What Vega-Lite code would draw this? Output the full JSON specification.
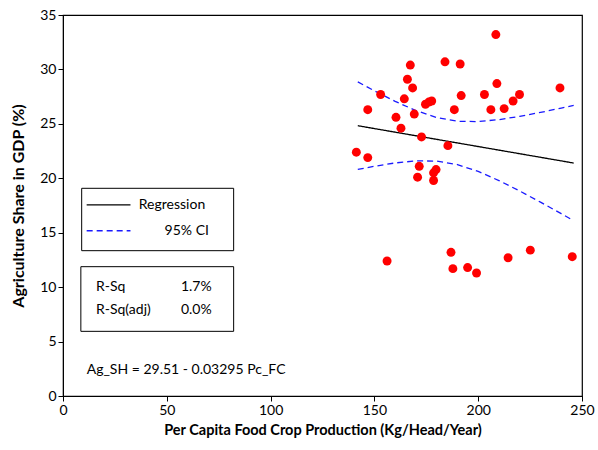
{
  "$schema": "https://vega.github.io/schema/vega-lite/v6.json",
  "width": 519,
  "height": 381,
  "autosize": "none",
  "padding": {"left": 63, "top": 15, "right": 16, "bottom": 54},
  "background": "white",
  "config": {
    "view": {"stroke": "black", "strokeWidth": 1.2},
    "font": "Lato",
    "axis": {
      "grid": false,
      "domainColor": "black",
      "tickColor": "black",
      "labelColor": "black",
      "titleColor": "black",
      "labelFont": "Lato",
      "titleFont": "Lato",
      "labelFontSize": 14,
      "titleFontSize": 14,
      "titleFontWeight": "bold",
      "tickSize": 5,
      "labelFlush": false
    }
  },
  "datasets": {
    "pts": [
      {"pc": 208.5, "ag": 33.2}, {"pc": 167.3, "ag": 30.4}, {"pc": 184.0, "ag": 30.7},
      {"pc": 191.3, "ag": 30.5}, {"pc": 165.9, "ag": 29.1}, {"pc": 168.4, "ag": 28.3},
      {"pc": 209.0, "ag": 28.7}, {"pc": 239.4, "ag": 28.3}, {"pc": 153.0, "ag": 27.7},
      {"pc": 164.4, "ag": 27.3}, {"pc": 174.6, "ag": 26.8}, {"pc": 176.2, "ag": 27.0},
      {"pc": 177.6, "ag": 27.1}, {"pc": 191.8, "ag": 27.6}, {"pc": 203.0, "ag": 27.7},
      {"pc": 219.9, "ag": 27.7}, {"pc": 216.8, "ag": 27.1}, {"pc": 146.8, "ag": 26.3},
      {"pc": 188.5, "ag": 26.3}, {"pc": 206.1, "ag": 26.3}, {"pc": 212.5, "ag": 26.4},
      {"pc": 160.4, "ag": 25.6}, {"pc": 169.2, "ag": 25.9}, {"pc": 162.8, "ag": 24.6},
      {"pc": 172.7, "ag": 23.8}, {"pc": 185.4, "ag": 23.0}, {"pc": 141.3, "ag": 22.4},
      {"pc": 146.8, "ag": 21.9}, {"pc": 171.6, "ag": 21.1}, {"pc": 179.7, "ag": 20.8},
      {"pc": 178.5, "ag": 20.5}, {"pc": 170.8, "ag": 20.1}, {"pc": 178.5, "ag": 19.8},
      {"pc": 156.1, "ag": 12.4}, {"pc": 186.9, "ag": 13.2}, {"pc": 187.8, "ag": 11.7},
      {"pc": 194.9, "ag": 11.8}, {"pc": 199.2, "ag": 11.3}, {"pc": 214.4, "ag": 12.7},
      {"pc": 225.1, "ag": 13.4}, {"pc": 245.3, "ag": 12.8}
    ],
    "lines": [
      {"x": 142, "y": 24.83, "s": "fit", "kind": "Regression"},
      {"x": 246, "y": 21.40, "s": "fit", "kind": "Regression"},
      {"x": 142, "y": 28.85, "s": "up", "kind": "CI"},
      {"x": 150, "y": 28.04, "s": "up", "kind": "CI"},
      {"x": 160, "y": 27.07, "s": "up", "kind": "CI"},
      {"x": 170, "y": 26.22, "s": "up", "kind": "CI"},
      {"x": 180, "y": 25.58, "s": "up", "kind": "CI"},
      {"x": 190, "y": 25.24, "s": "up", "kind": "CI"},
      {"x": 200, "y": 25.21, "s": "up", "kind": "CI"},
      {"x": 210, "y": 25.39, "s": "up", "kind": "CI"},
      {"x": 220, "y": 25.69, "s": "up", "kind": "CI"},
      {"x": 230, "y": 26.05, "s": "up", "kind": "CI"},
      {"x": 240, "y": 26.45, "s": "up", "kind": "CI"},
      {"x": 246, "y": 26.70, "s": "up", "kind": "CI"},
      {"x": 142, "y": 20.81, "s": "lo", "kind": "CI"},
      {"x": 150, "y": 21.10, "s": "lo", "kind": "CI"},
      {"x": 160, "y": 21.41, "s": "lo", "kind": "CI"},
      {"x": 170, "y": 21.60, "s": "lo", "kind": "CI"},
      {"x": 180, "y": 21.58, "s": "lo", "kind": "CI"},
      {"x": 190, "y": 21.26, "s": "lo", "kind": "CI"},
      {"x": 200, "y": 20.63, "s": "lo", "kind": "CI"},
      {"x": 210, "y": 19.79, "s": "lo", "kind": "CI"},
      {"x": 220, "y": 18.83, "s": "lo", "kind": "CI"},
      {"x": 230, "y": 17.81, "s": "lo", "kind": "CI"},
      {"x": 240, "y": 16.75, "s": "lo", "kind": "CI"},
      {"x": 246, "y": 16.10, "s": "lo", "kind": "CI"},
      {"x": 11.4, "y": 17.55, "s": "legfit", "kind": "Regression"},
      {"x": 32.5, "y": 17.55, "s": "legfit", "kind": "Regression"},
      {"x": 11.4, "y": 15.18, "s": "legci", "kind": "CI"},
      {"x": 32.5, "y": 15.18, "s": "legci", "kind": "CI"}
    ],
    "boxes": [
      {"x1": 9.0, "x2": 82.2, "y1": 13.35, "y2": 19.08},
      {"x1": 8.6, "x2": 82.2, "y1": 5.94, "y2": 11.88}
    ],
    "textsL": [
      {"x": 36.5, "y": 17.55, "t": "Regression"},
      {"x": 15.9, "y": 10.04, "t": "R-Sq"},
      {"x": 15.9, "y": 7.9, "t": "R-Sq(adj)"},
      {"x": 11.4, "y": 2.39, "t": "Ag_SH =  29.51 - 0.03295 Pc_FC"}
    ],
    "textsR": [
      {"x": 70.3, "y": 15.18, "t": "95% CI"},
      {"x": 71.6, "y": 10.04, "t": "1.7%"},
      {"x": 71.6, "y": 7.9, "t": "0.0%"}
    ]
  },
  "encoding": {
    "x": {
      "type": "quantitative",
      "scale": {"domain": [0, 250], "nice": false, "zero": false},
      "axis": {"values": [0, 50, 100, 150, 200, 250], "title": "Per Capita Food Crop Production (Kg/Head/Year)", "titleFontSize": 14.5, "titlePadding": 6, "labelPadding": 2}
    },
    "y": {
      "type": "quantitative",
      "scale": {"domain": [0, 35], "nice": false, "zero": false},
      "axis": {"values": [0, 5, 10, 15, 20, 25, 30, 35], "title": "Agriculture Share in GDP (%)", "titleFontSize": 16, "titlePadding": 13, "labelPadding": 2}
    }
  },
  "layer": [
    {
      "data": {"name": "boxes"},
      "mark": {"type": "rect", "fill": "white", "stroke": "black", "strokeWidth": 1},
      "encoding": {
        "x": {"field": "x1", "type": "quantitative"},
        "x2": {"field": "x2"},
        "y": {"field": "y1", "type": "quantitative"},
        "y2": {"field": "y2"}
      }
    },
    {
      "data": {"name": "lines"},
      "mark": {"type": "line", "strokeWidth": 1.3},
      "encoding": {
        "x": {"field": "x", "type": "quantitative"},
        "y": {"field": "y", "type": "quantitative"},
        "detail": {"field": "s", "type": "nominal"},
        "color": {"field": "kind", "type": "nominal", "scale": {"domain": ["Regression", "CI"], "range": ["black", "#1a1aff"]}, "legend": null},
        "strokeDash": {"field": "kind", "type": "nominal", "scale": {"domain": ["Regression", "CI"], "range": [[1, 0], [6, 4]]}, "legend": null}
      }
    },
    {
      "data": {"name": "pts"},
      "mark": {"type": "circle", "color": "#ff0000", "opacity": 1, "size": 80},
      "encoding": {
        "x": {"field": "pc", "type": "quantitative"},
        "y": {"field": "ag", "type": "quantitative"}
      }
    },
    {
      "data": {"name": "textsL"},
      "mark": {"type": "text", "align": "left", "baseline": "middle", "fontSize": 14, "font": "Lato", "color": "black"},
      "encoding": {
        "x": {"field": "x", "type": "quantitative"},
        "y": {"field": "y", "type": "quantitative"},
        "text": {"field": "t"}
      }
    },
    {
      "data": {"name": "textsR"},
      "mark": {"type": "text", "align": "right", "baseline": "middle", "fontSize": 14, "font": "Lato", "color": "black"},
      "encoding": {
        "x": {"field": "x", "type": "quantitative"},
        "y": {"field": "y", "type": "quantitative"},
        "text": {"field": "t"}
      }
    }
  ]
}
